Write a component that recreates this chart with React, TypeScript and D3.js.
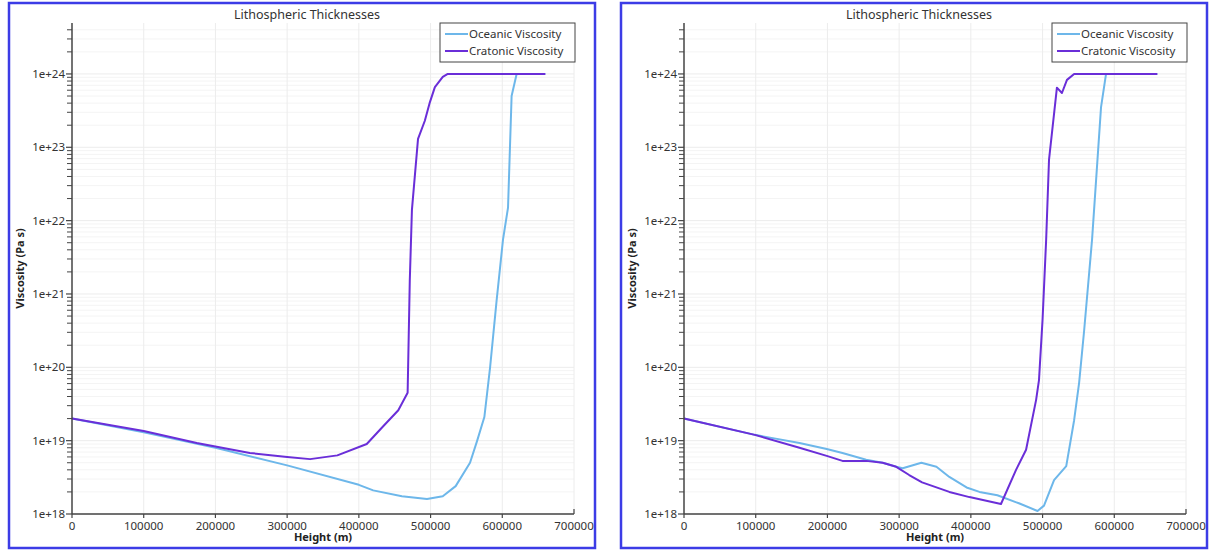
import React from "react";
import * as d3 from "d3";

// Height (m), viscosity (Pa s) pairs
const oceanicLeft: [number, number][] = [
  [0, 2.0e19], [100000, 1.3e19], [200000, 8.0e18], [300000, 4.6e18],
  [400000, 2.5e18], [420000, 2.1e18], [460000, 1.75e18], [495000, 1.6e18],
  [517000, 1.75e18], [535000, 2.4e18], [555000, 5.0e18], [565000, 1.0e19],
  [575000, 2.1e19], [583000, 1.0e20], [592000, 8.0e20], [601000, 5.5e21],
  [608000, 1.5e22], [613000, 5.0e23], [620000, 1.0e24], [660000, 1.0e24],
];

const cratonicLeft: [number, number][] = [
  [0, 2.0e19], [100000, 1.35e19], [174000, 9.3e18], [248000, 6.8e18],
  [300000, 6.0e18], [332000, 5.6e18], [370000, 6.3e18], [411000, 9.0e18],
  [432000, 1.5e19], [455000, 2.6e19], [468000, 4.5e19], [471000, 1.5e21],
  [474000, 1.4e22], [482500, 1.3e23], [492000, 2.3e23], [499000, 4.1e23],
  [506000, 6.6e23], [517000, 9.1e23], [524000, 1.0e24], [660000, 1.0e24],
];

const oceanicRight: [number, number][] = [
  [0, 2.0e19], [98800, 1.2e19], [120000, 1.1e19], [161000, 9.3e18],
  [199000, 7.7e18], [221000, 6.8e18], [254000, 5.5e18], [277000, 5.0e18],
  [296000, 4.4e18], [305000, 4.2e18], [331000, 5.0e18], [352000, 4.4e18],
  [370000, 3.2e18], [394000, 2.3e18], [412000, 2.0e18], [437000, 1.8e18],
  [467000, 1.4e18], [493000, 1.1e18], [502000, 1.3e18], [516000, 2.9e18],
  [533000, 4.5e18], [544000, 1.9e19], [551000, 6.2e19], [558000, 3.2e20],
  [569000, 5.5e21], [581500, 3.5e23], [588500, 1.0e24], [660000, 1.0e24],
];

const cratonicRight: [number, number][] = [
  [0, 2.0e19], [98800, 1.2e19], [161000, 8.0e18], [199000, 6.2e18],
  [221000, 5.3e18], [254000, 5.3e18], [277000, 5.0e18], [296000, 4.4e18],
  [314000, 3.4e18], [332000, 2.7e18], [370000, 2.0e18], [398000, 1.7e18],
  [442000, 1.37e18], [463000, 4.0e18], [477000, 7.5e18], [491000, 3.6e19],
  [495000, 6.7e19], [500000, 4.5e20], [505000, 5.5e21], [509000, 6.8e22],
  [520000, 6.5e23], [527000, 5.5e23], [534000, 8.3e23], [544000, 1.0e24],
  [660000, 1.0e24],
];

const xTicks = [0, 100000, 200000, 300000, 400000, 500000, 600000, 700000];
const yMajor = [1e18, 1e19, 1e20, 1e21, 1e22, 1e23, 1e24];
const yLabels = ["1e+18", "1e+19", "1e+20", "1e+21", "1e+22", "1e+23", "1e+24"];
const seriesNames = ["Oceanic Viscosity", "Cratonic Viscosity"];

const TITLE = "Lithospheric Thicknesses";
const FONT = "'Noto Sans', 'DejaVu Sans', sans-serif";
const BLUE = "#6db7ea";
const PURPLE = "#6a2ed8";

const margin = { left: 72, top: 23, plotW: 502, bottom: 514 };

function Panel({ oceanic, cratonic, dx }: { oceanic: [number, number][]; cratonic: [number, number][]; dx: number }) {
  const x = d3.scaleLinear().domain([0, 700000]).range([margin.left, margin.left + margin.plotW]);
  const y = d3.scaleLog().domain([1e18, 4.95e24]).range([margin.bottom, margin.top]);

  const line = d3.line<[number, number]>()
    .x(d => x(d[0]))
    .y(d => y(d[1]));

  const allY = y.ticks();
  const minor = allY.filter(t => !yMajor.includes(t));

  return (
    <g transform={`translate(${dx},0)`}>
      <rect x={9} y={3} width={586} height={545} fill="#fff" stroke="#3c3ce6" strokeWidth={2.5} />
      <text x={307} y={19} textAnchor="middle" fontSize={12.5} fill="#333" fontFamily={FONT}>{TITLE}</text>

      {/* grid */}
      {allY.map((t, i) => (
        <line key={"gy" + i} x1={margin.left} x2={margin.left + margin.plotW} y1={y(t)} y2={y(t)}
              stroke={yMajor.includes(t) ? "#ececec" : "#f4f4f4"} strokeWidth={1} />
      ))}
      {xTicks.slice(1).map(t => (
        <line key={"gx" + t} x1={x(t)} x2={x(t)} y1={margin.top} y2={margin.bottom} stroke="#ececec" strokeWidth={1} />
      ))}

      {/* curves */}
      <path d={line(oceanic) ?? ""} fill="none" stroke={BLUE} strokeWidth={2} strokeLinejoin="round" />
      <path d={line(cratonic) ?? ""} fill="none" stroke={PURPLE} strokeWidth={2} strokeLinejoin="round" />

      {/* axes */}
      <line x1={margin.left} x2={margin.left} y1={margin.top} y2={margin.bottom} stroke="#444" strokeWidth={1.5} />
      <line x1={margin.left} x2={margin.left + margin.plotW} y1={margin.bottom} y2={margin.bottom} stroke="#444" strokeWidth={1.5} />
      {minor.map((t, i) => (
        <line key={"mt" + i} x1={margin.left - 5} x2={margin.left} y1={y(t)} y2={y(t)} stroke="#444" strokeWidth={1} />
      ))}
      {yMajor.map((t, i) => (
        <g key={"yt" + i}>
          <line x1={margin.left - 6} x2={margin.left} y1={y(t)} y2={y(t)} stroke="#444" strokeWidth={1.2} />
          <text x={margin.left - 7} y={y(t)} dy="0.35em" textAnchor="end" fontSize={11.5} fill="#333" fontFamily={FONT}>{yLabels[i]}</text>
        </g>
      ))}
      {xTicks.map(t => (
        <g key={"xt" + t}>
          <line x1={x(t)} x2={x(t)} y1={margin.bottom} y2={t === 700000 ? margin.bottom - 5 : margin.bottom + 4} stroke="#444" strokeWidth={1.2} />
          <text x={x(t)} y={margin.bottom + 16} textAnchor="middle" fontSize={11.5} fill="#333" fontFamily={FONT}>{t}</text>
        </g>
      ))}
      <text x={margin.left + margin.plotW / 2} y={541} textAnchor="middle" fontSize={11} fontWeight="bold" fill="#222" fontFamily={FONT}>Height (m)</text>
      <text transform={`translate(24,${(margin.top + margin.bottom) / 2}) rotate(-90)`} textAnchor="middle" fontSize={11} fontWeight="bold" fill="#222" fontFamily={FONT}>Viscosity (Pa s)</text>

      {/* legend */}
      <rect x={440} y={23} width={135} height={39} fill="#fff" stroke="#444" strokeWidth={1} />
      {seriesNames.map((n, i) => (
        <g key={n}>
          <line x1={445} x2={468} y1={34 + i * 17} y2={34 + i * 17} stroke={i === 0 ? BLUE : PURPLE} strokeWidth={2} />
          <text x={469} y={34 + i * 17} dy="0.35em" fontSize={11.5} fill="#333" fontFamily={FONT}>{n}</text>
        </g>
      ))}
    </g>
  );
}

export default function App() {
  return (
    <svg width={1213} height={551} style={{ position: "absolute", left: 0, top: 0, background: "#fff" }}>
      <Panel oceanic={oceanicLeft} cratonic={cratonicLeft} dx={0} />
      <Panel oceanic={oceanicRight} cratonic={cratonicRight} dx={612} />
    </svg>
  );
}
